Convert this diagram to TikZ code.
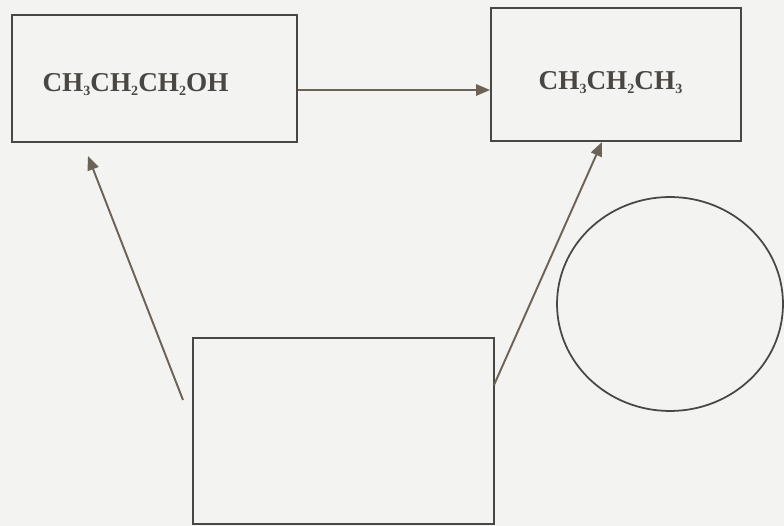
\documentclass[tikz,border=0pt]{standalone}
\usepackage{fontspec}
\setmainfont{Liberation Serif}
\usetikzlibrary{arrows.meta}
\definecolor{paper}{RGB}{243,243,241}
\definecolor{ink}{RGB}{72,71,67}
\definecolor{arrowink}{RGB}{108,99,86}
\newcommand{\subnum}[1]{\raisebox{-.3ex}{\fontsize{8}{8}\selectfont #1}}

\begin{document}
\begin{tikzpicture}[x=0.02cm, y=-0.02cm,
  box/.style={draw=ink, line width=1.1pt, inner sep=0pt},
  arr/.style={draw=arrowink, line width=1.1pt, -{Triangle[length=8pt, width=6.5pt]}},
  formula/.style={anchor=base, text=ink, font=\bfseries\fontsize{15.5}{17}\selectfont}]
% paper
\fill[paper] (0,0) rectangle (784,526);
% boxes
\node[box, minimum width=5.7cm, minimum height=2.54cm] (alcohol) at (154.5,78.5) {};
\node[box, minimum width=5cm, minimum height=2.66cm] (alkane) at (616,74.5) {};
\node[box, minimum width=6.02cm, minimum height=3.72cm] (empty) at (343.5,431) {};
% formulas
\node[formula] (alcoholtxt) at (135.5,92) {CH\subnum{3}CH\subnum{2}CH\subnum{2}OH};
\node[formula] (alkanetxt) at (610.5,90) {CH\subnum{3}CH\subnum{2}CH\subnum{3}};
% arrows
\coordinate (mid) at (0,90);
\draw[arr] (alcohol.east |- mid) -- (alkane.west |- mid);
\coordinate (leftstart) at (183,400);
\coordinate (lefttip) at (88,156);
\draw[arr] (leftstart) -- (lefttip);
\coordinate (rightstart) at (494,385);
\coordinate (righttip) at (602,142);
\draw[arr] (rightstart) -- (righttip);
% circle
\draw[ink, line width=1pt] (670,304) ellipse [x radius=2.26cm, y radius=2.14cm];
\end{tikzpicture}
\end{document}
